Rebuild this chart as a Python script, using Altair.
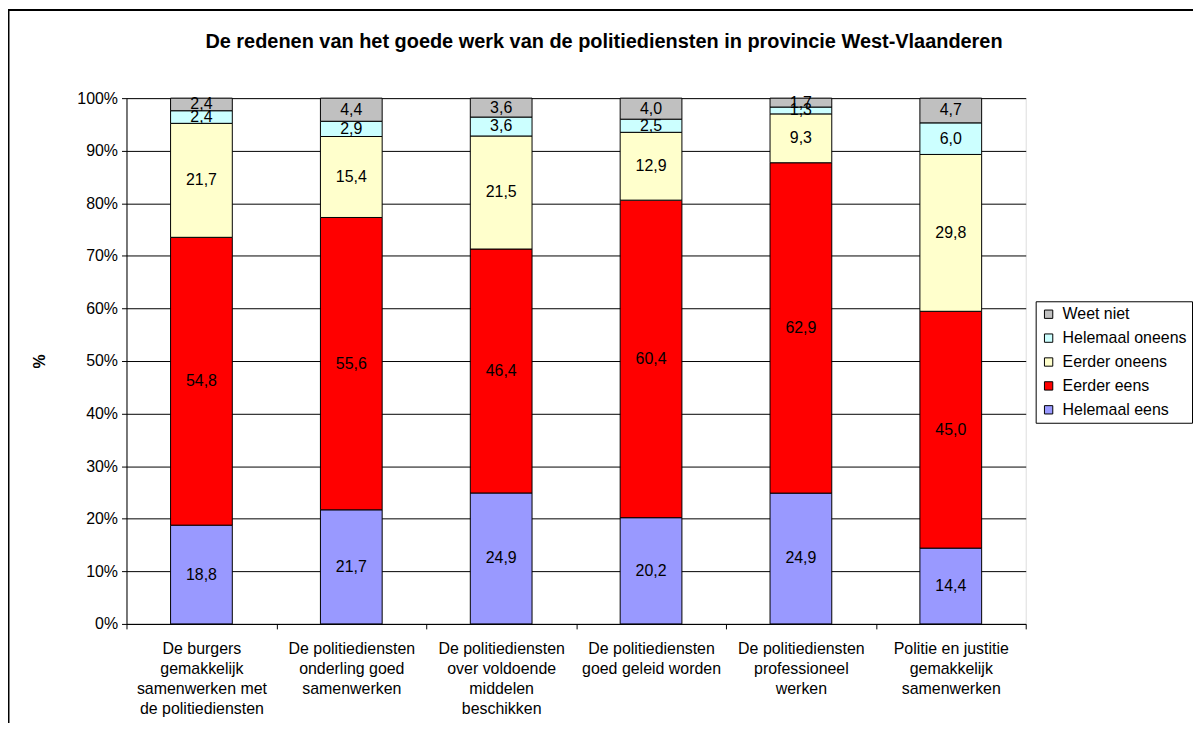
import altair as alt
import pandas as pd

title_text = "De redenen van het goede werk van de politiediensten in provincie West-Vlaanderen"

categories = [
    "De burgers|gemakkelijk|samenwerken met|de politiediensten",
    "De politiediensten|onderling goed|samenwerken",
    "De politiediensten|over voldoende|middelen|beschikken",
    "De politiediensten|goed geleid worden",
    "De politiediensten|professioneel|werken",
    "Politie en justitie|gemakkelijk|samenwerken",
]
series = ["Helemaal eens", "Eerder eens", "Eerder oneens", "Helemaal oneens", "Weet niet"]
helemaal_eens = [18.8, 21.7, 24.9, 20.2, 24.9, 14.4]
eerder_eens = [54.8, 55.6, 46.4, 60.4, 62.9, 45.0]
eerder_oneens = [21.7, 15.4, 21.5, 12.9, 9.3, 29.8]
helemaal_oneens = [2.4, 2.9, 3.6, 2.5, 1.3, 6.0]
weet_niet = [2.4, 4.4, 3.6, 4.0, 1.7, 4.7]
series_colors = ["#9999FF", "#FF0000", "#FFFFCC", "#CCFFFF", "#C0C0C0"]
y_ticks = [0, 0.1, 0.2, 0.3, 0.4, 0.5, 0.6, 0.7, 0.8, 0.9, 1.0]

values_by_series = [helemaal_eens, eerder_eens, eerder_oneens, helemaal_oneens, weet_niet]
rows = []
for si, (name, vals) in enumerate(zip(series, values_by_series)):
    for cat, v in zip(categories, vals):
        rows.append({"cat": cat, "series": name, "value": v, "order": si})
df = pd.DataFrame(rows)

FONT = "Liberation Sans"
legend_domain = series[::-1]
legend_range = series_colors[::-1]

base = alt.Chart(df).transform_stack(
    stack="value",
    groupby=["cat"],
    as_=["y0", "y1"],
    offset="normalize",
    sort=[alt.SortField("order", order="ascending")],
).transform_calculate(
    mid="(datum.y0 + datum.y1) / 2",
    lbl="replace(format(datum.value, '.1f'), '.', ',')",
)

x_enc = alt.X(
    "cat:N",
    sort=categories,
    scale=alt.Scale(paddingInner=0, paddingOuter=0),
    axis=alt.Axis(
        title=None,
        labelExpr="split(datum.label, '|')",
        labelAngle=0,
        labelFont=FONT,
        labelFontSize=16,
        labelLineHeight=20,
        labelColor="black",
        labelLimit=0,
        labelPadding=12,
        tickBand="extent",
        tickSize=5,
        tickColor="black",
        domainColor="black",
        grid=False,
    ),
)

bars = base.mark_bar(size=62, stroke="black", strokeWidth=1).encode(
    x=x_enc,
    y=alt.Y(
        "y0:Q",
        scale=alt.Scale(domain=[0, 1], nice=False),
        axis=alt.Axis(
            values=y_ticks,
            format=".0%",
            labelFont=FONT,
            labelFontSize=16,
            labelColor="black",
            labelPadding=4,
            tickSize=5,
            tickColor="black",
            domainColor="black",
            grid=True,
            gridColor="black",
            gridWidth=1,
            title="%",
            titleFont=FONT,
            titleFontSize=16,
            titleFontWeight="bold",
            titleColor="black",
            titleX=-87,
            titleY=264,
            titleAlign="center",
            titleBaseline="middle",
        ),
    ),
    y2="y1:Q",
    color=alt.Color(
        "series:N",
        scale=alt.Scale(domain=legend_domain, range=legend_range),
        legend=alt.Legend(
            title=None,
            orient="none",
            legendX=913,
            legendY=204,
            strokeColor="black",
            fillColor="white",
            padding=5,
            symbolType="square",
            symbolSize=70,
            symbolStrokeColor="black",
            symbolStrokeWidth=1,
            labelFont=FONT,
            labelFontSize=16,
            labelColor="black",
            labelOffset=6,
            rowPadding=8,
        ),
    ),
)

texts = base.mark_text(font=FONT, fontSize=16, color="black", baseline="middle", align="center").encode(
    x=alt.X("cat:N", sort=categories),
    y=alt.Y("mid:Q"),
    text="lbl:N",
)

title_mark = alt.Chart(alt.Data(values=[{"t": title_text}])).mark_text(
    font=FONT, fontSize=20, fontWeight="bold", color="black", baseline="alphabetic", align="center"
).encode(x=alt.value(479.5), y=alt.value(-50), text="t:N")

frame = alt.Chart(alt.Data(values=[{"f": 1}])).mark_rect(
    fillOpacity=0, stroke="black", strokeWidth=2
).encode(x=alt.value(-118.5), x2=alt.value(1300), y=alt.value(-88.5), y2=alt.value(900))

chart = alt.layer(frame, bars, texts, title_mark).properties(
    width=903,
    height=528,
    autosize=alt.AutoSizeParams(type="none"),
    padding={"left": 119, "top": 89, "right": 168, "bottom": 98},
).configure_view(stroke="#808080", strokeWidth=1).configure(background="white")

chart.save("out.html", embed_options={"renderer": "svg", "actions": False})
